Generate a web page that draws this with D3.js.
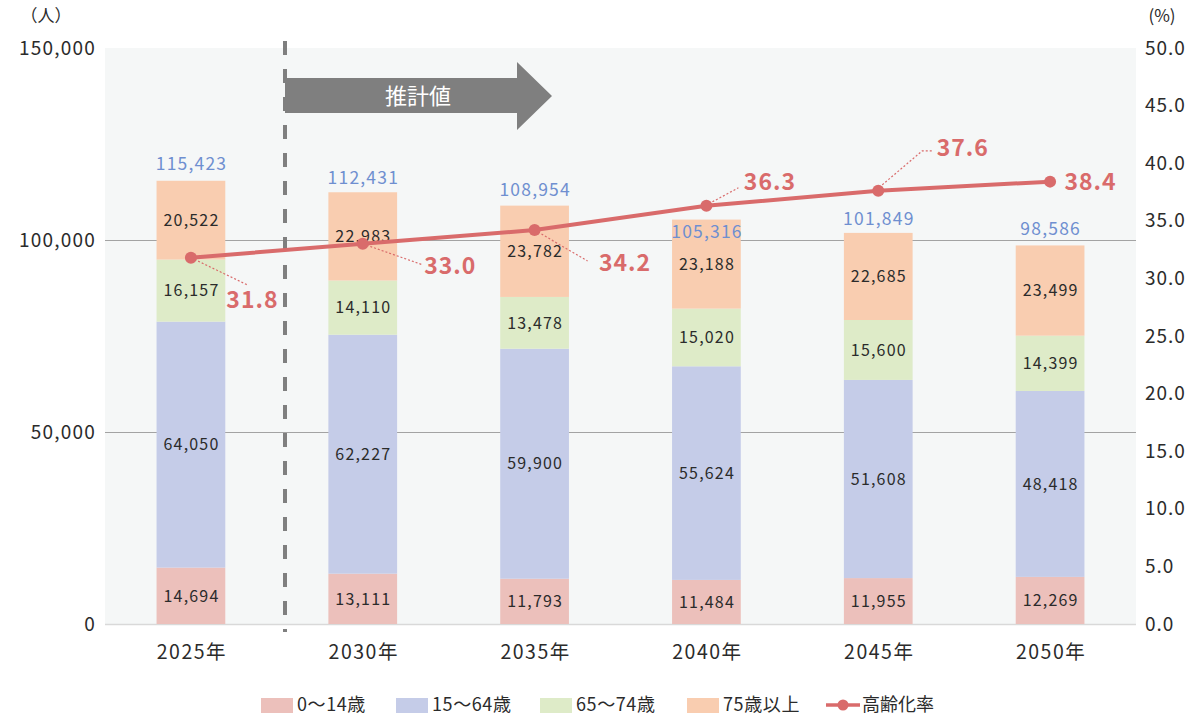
<!DOCTYPE html>
<html>
<head>
<meta charset="utf-8">
<script src="https://cdn.jsdelivr.net/npm/d3@7"></script>
<style>
  html, body { margin: 0; padding: 0; background: #fff; }
  svg { display: block; font-family: "Noto Sans CJK JP", "Noto Sans", sans-serif; }
</style>
</head>
<body>
<svg id="chart" width="1189" height="718"></svg>
<script>
// ---- data ----
const years = ["2025年", "2030年", "2035年", "2040年", "2045年", "2050年"];
const seriesNames = ["0〜14歳", "15〜64歳", "65〜74歳", "75歳以上"];
const age0to14 = [14694, 13111, 11793, 11484, 11955, 12269];
const age15to64 = [64050, 62227, 59900, 55624, 51608, 48418];
const age65to74 = [16157, 14110, 13478, 15020, 15600, 14399];
const age75plus = [20522, 22983, 23782, 23188, 22685, 23499];
const totals = [115423, 112431, 108954, 105316, 101849, 98586];
const agingRate = [31.8, 33.0, 34.2, 36.3, 37.6, 38.4];
const leftTicks = [0, 50000, 100000, 150000];
const rightTicks = [0, 5, 10, 15, 20, 25, 30, 35, 40, 45, 50];
const lineName = "高齢化率";
const forecastLabel = "推計値";

// ---- layout ----
const plot = { left: 105, right: 1136, top: 48, bottom: 624 };
const colors = ["#ecc0bb", "#c5cce8", "#deebc8", "#f9cdb0"];
const lineColor = "#d96b6b";
const textColor = "#2b2b2b";
// total label vertical offset from bar top (px)
const totalLabelDy = [-17, -15, -16, 12, -14, -17];
// rate label offsets from the marker, and leader-line paths (relative px)
const rateLabelPos = [[61, 42], [87, 22], [90, 33], [63, -24], [84, -43], [40, 0]];
const rateLeaders = [
  [[0, 0], [56, 27]],
  [[0, 0], [60, 21]],
  [[0, 0], [53, 31]],
  [[6, -4], [32, -18]],
  [[4, -6], [44, -40], [54, -40]],
  null
];

const svg = d3.select("#chart");

const x = d3.scaleBand().domain(years)
  .range([plot.left, plot.right])
  .paddingInner(0.6).paddingOuter(0.3);
const y = d3.scaleLinear().domain([0, 150000]).range([plot.bottom, plot.top]);
const y2 = d3.scaleLinear().domain([0, 50]).range([plot.bottom, plot.top]);

// plot background
svg.append("rect")
  .attr("x", plot.left).attr("y", plot.top)
  .attr("width", plot.right - plot.left).attr("height", plot.bottom - plot.top)
  .attr("fill", "#f5f7f7");

// gridlines
svg.append("g").selectAll("line")
  .data(leftTicks.filter(d => d > 0 && d < 150000))
  .join("line")
  .attr("x1", plot.left).attr("x2", plot.right)
  .attr("y1", d => Math.round(y(d)) + 0.5).attr("y2", d => Math.round(y(d)) + 0.5)
  .attr("stroke", "#a3a3a3").attr("stroke-width", 1.2);

// baseline
svg.append("line")
  .attr("x1", plot.left).attr("x2", plot.right)
  .attr("y1", plot.bottom + 0.5).attr("y2", plot.bottom + 0.5)
  .attr("stroke", "#d9d9d9").attr("stroke-width", 1.5);

// stacked bars
const table = years.map((yr, i) => ({
  year: yr,
  [seriesNames[0]]: age0to14[i],
  [seriesNames[1]]: age15to64[i],
  [seriesNames[2]]: age65to74[i],
  [seriesNames[3]]: age75plus[i]
}));
const stacked = d3.stack().keys(seriesNames)(table);

const fmt = d3.format(",");

const layers = svg.append("g").selectAll("g")
  .data(stacked).join("g")
  .attr("fill", (d, i) => colors[i]);

layers.selectAll("rect")
  .data(d => d)
  .join("rect")
  .attr("x", d => x(d.data.year))
  .attr("width", x.bandwidth())
  .attr("y", d => y(d[1]))
  .attr("height", d => y(d[0]) - y(d[1]));

// segment value labels
const segLabels = svg.append("g")
  .attr("font-size", 16).attr("letter-spacing", 1.2)
  .attr("fill", textColor).attr("text-anchor", "middle");
stacked.forEach(layer => {
  layer.forEach(d => {
    segLabels.append("text")
      .attr("x", x(d.data.year) + x.bandwidth() / 2 + 0.6)
      .attr("y", (y(d[0]) + y(d[1])) / 2)
      .attr("dy", "0.36em")
      .text(fmt(d[1] - d[0]));
  });
});

// totals
svg.append("g").selectAll("text")
  .data(totals).join("text")
  .attr("x", (d, i) => x(years[i]) + x.bandwidth() / 2 + 0.6)
  .attr("y", (d, i) => y(d) + totalLabelDy[i])
  .attr("dy", "0.36em")
  .attr("text-anchor", "middle")
  .attr("font-size", 17.5).attr("letter-spacing", 1.2)
  .attr("fill", "#6f8fd0")
  .text(d => fmt(d));

// forecast divider (dashed)
const divX = 285;
svg.append("line")
  .attr("x1", divX).attr("x2", divX)
  .attr("y1", 41).attr("y2", 632)
  .attr("stroke", "#7f7f7f").attr("stroke-width", 4)
  .attr("stroke-dasharray", "14,14");

// forecast arrow
const arrow = d3.path();
arrow.moveTo(divX, 78);
arrow.lineTo(517, 78);
arrow.lineTo(517, 62);
arrow.lineTo(552, 96);
arrow.lineTo(517, 130);
arrow.lineTo(517, 113);
arrow.lineTo(divX, 113);
arrow.closePath();
svg.append("path").attr("d", arrow.toString()).attr("fill", "#7f7f7f");
svg.append("text")
  .attr("x", 418).attr("y", 96).attr("dy", "0.36em")
  .attr("text-anchor", "middle").attr("font-size", 22).attr("fill", "#fff")
  .text(forecastLabel);

// aging-rate line
const pts = agingRate.map((v, i) => [x(years[i]) + x.bandwidth() / 2, y2(v)]);

// leader lines
svg.append("g").selectAll("path")
  .data(rateLeaders.map((l, i) => l ? l.map(p => [pts[i][0] + p[0], pts[i][1] + p[1]]) : null).filter(Boolean))
  .join("path")
  .attr("d", d3.line())
  .attr("fill", "none").attr("stroke", lineColor).attr("stroke-width", 1.2)
  .attr("stroke-dasharray", "2,2");

svg.append("path")
  .datum(pts)
  .attr("d", d3.line())
  .attr("fill", "none").attr("stroke", lineColor).attr("stroke-width", 4);

svg.append("g").selectAll("circle")
  .data(pts).join("circle")
  .attr("cx", d => d[0]).attr("cy", d => d[1]).attr("r", 6)
  .attr("fill", lineColor);

svg.append("g").selectAll("text")
  .data(agingRate).join("text")
  .attr("x", (d, i) => pts[i][0] + rateLabelPos[i][0] + 0.5)
  .attr("y", (d, i) => pts[i][1] + rateLabelPos[i][1])
  .attr("dy", "0.36em")
  .attr("text-anchor", "middle")
  .attr("font-size", 23).attr("font-weight", "bold").attr("letter-spacing", 1)
  .attr("fill", lineColor)
  .text(d => d3.format(".1f")(d));

// left axis
const yAxis = d3.axisLeft(y).tickValues(leftTicks).tickFormat(fmt).tickSize(0).tickPadding(0);
const gy = svg.append("g").attr("transform", `translate(96,0)`).call(yAxis);
gy.select(".domain").remove();
gy.selectAll("text").attr("font-size", 19).attr("fill", textColor).attr("letter-spacing", 1.2)
  .attr("font-family", "'Noto Sans CJK JP', sans-serif");
svg.append("text").attr("x", 46).attr("y", 16).attr("dy", "0.36em")
  .attr("text-anchor", "middle").attr("font-size", 17).attr("fill", textColor).text("（人）");

// right axis
const yAxisR = d3.axisRight(y2).tickValues(rightTicks).tickFormat(d3.format(".1f")).tickSize(0).tickPadding(0);
const gy2 = svg.append("g").attr("transform", `translate(1145,0)`).call(yAxisR);
gy2.select(".domain").remove();
gy2.selectAll("text").attr("font-size", 19).attr("fill", textColor).attr("letter-spacing", 1)
  .attr("font-family", "'Noto Sans CJK JP', sans-serif");
svg.append("text").attr("x", 1162).attr("y", 16).attr("dy", "0.36em")
  .attr("text-anchor", "middle").attr("font-size", 17).attr("fill", textColor).text("(%)");

// x axis
const xAxis = d3.axisBottom(x).tickSize(0).tickPadding(0);
const gx = svg.append("g").attr("transform", `translate(1,645)`).call(xAxis);
gx.select(".domain").remove();
gx.selectAll("text").attr("font-size", 19.5).attr("fill", textColor).attr("letter-spacing", 1.5)
  .attr("font-family", "'Noto Sans CJK JP', sans-serif");

// legend
const legend = svg.append("g").attr("font-size", 18).attr("fill", textColor);
const legendX = [261, 396, 540, 687];
seriesNames.forEach((name, i) => {
  legend.append("rect").attr("x", legendX[i]).attr("y", 698)
    .attr("width", 32).attr("height", 15).attr("fill", colors[i]);
  legend.append("text").attr("x", legendX[i] + 36).attr("y", 705).attr("dy", "0.36em")
    .attr("letter-spacing", 0.6).text(name);
});
legend.append("line").attr("x1", 826).attr("x2", 860).attr("y1", 705).attr("y2", 705)
  .attr("stroke", lineColor).attr("stroke-width", 3.5);
legend.append("circle").attr("cx", 843).attr("cy", 705).attr("r", 5.5).attr("fill", lineColor);
legend.append("text").attr("x", 862).attr("y", 705).attr("dy", "0.36em").text(lineName);
</script>
</body>
</html>
